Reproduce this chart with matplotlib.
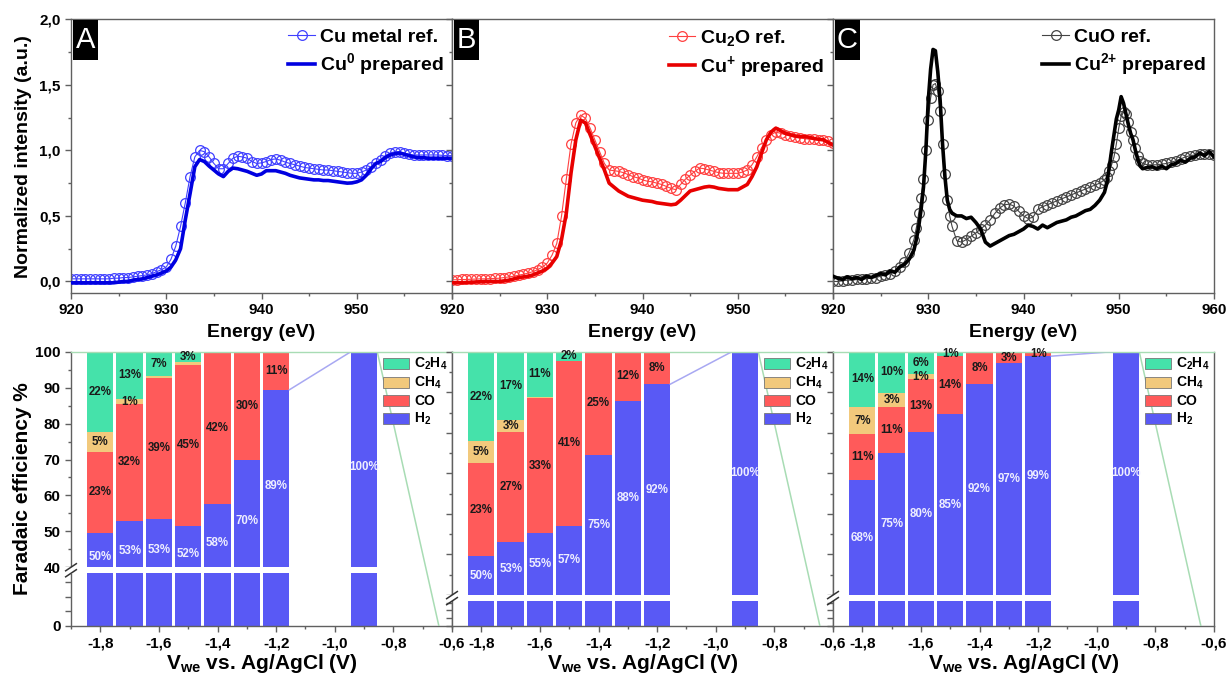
import numpy as np
import matplotlib
matplotlib.use('Agg')
import matplotlib.pyplot as plt
from matplotlib.patches import Patch, Rectangle
from matplotlib.ticker import MultipleLocator, FixedLocator, FuncFormatter

plt.rcParams.update({
    'font.family': ['Liberation Sans', 'DejaVu Sans'],
    'font.weight': 'bold',
    'axes.labelweight': 'bold',
    'mathtext.fontset': 'custom',
    'mathtext.rm': 'Liberation Sans:bold',
    'mathtext.it': 'Liberation Sans:bold',
    'mathtext.bf': 'Liberation Sans:bold',
    'mathtext.default': 'bf',
})

# ---------------- XANES data ----------------
E_AB = [920.0, 920.5, 921.0, 921.5, 922.0, 922.5, 923.0, 923.5, 924.0, 924.5,
        925.0, 925.5, 926.0, 926.5, 927.0, 927.5, 928.0, 928.5, 929.0, 929.5,
        930.0, 930.5, 931.0, 931.5, 932.0, 932.5, 933.0, 933.5, 934.0, 934.5,
        935.0, 935.5, 936.0, 936.5, 937.0, 937.5, 938.0, 938.5, 939.0, 939.5,
        940.0, 940.5, 941.0, 941.5, 942.0, 942.5, 943.0, 943.5, 944.0, 944.5,
        945.0, 945.5, 946.0, 946.5, 947.0, 947.5, 948.0, 948.5, 949.0, 949.5,
        950.0, 950.5, 951.0, 951.5, 952.0, 952.5, 953.0, 953.5, 954.0, 954.5,
        955.0, 955.5, 956.0, 956.5, 957.0, 957.5, 958.0, 958.5, 959.0, 959.5,
        960.0]

cu_metal_ref = [0.02, 0.02, 0.02, 0.02, 0.02, 0.02, 0.02, 0.02, 0.02, 0.025,
                0.025, 0.03, 0.03, 0.035, 0.04, 0.045, 0.05, 0.06, 0.075, 0.09,
                0.11, 0.17, 0.27, 0.42, 0.60, 0.80, 0.95, 1.00, 0.99, 0.95,
                0.90, 0.86, 0.86, 0.90, 0.94, 0.955, 0.95, 0.94, 0.915, 0.90,
                0.905, 0.915, 0.93, 0.935, 0.925, 0.91, 0.90, 0.89, 0.88, 0.87,
                0.865, 0.86, 0.855, 0.85, 0.85, 0.845, 0.84, 0.835, 0.83, 0.825,
                0.825, 0.835, 0.85, 0.875, 0.90, 0.93, 0.96, 0.98, 0.99, 0.99,
                0.98, 0.97, 0.965, 0.965, 0.965, 0.965, 0.965, 0.965, 0.962, 0.96,
                0.96]
cu0_prepared = [-0.01, -0.01, -0.01, -0.01, -0.01, -0.01, -0.01, -0.01, -0.01, -0.01,
                -0.005, 0.0, 0.0, 0.01, 0.015, 0.02, 0.03, 0.04, 0.05, 0.065,
                0.08, 0.11, 0.165, 0.25, 0.47, 0.67, 0.875, 0.93, 0.915, 0.88,
                0.85, 0.82, 0.80, 0.84, 0.865, 0.86, 0.85, 0.84, 0.825, 0.81,
                0.82, 0.845, 0.845, 0.845, 0.835, 0.825, 0.81, 0.80, 0.79, 0.785,
                0.78, 0.775, 0.775, 0.77, 0.77, 0.765, 0.76, 0.755, 0.75, 0.752,
                0.76, 0.775, 0.81, 0.86, 0.90, 0.915, 0.945, 0.965, 0.975, 0.98,
                0.97, 0.96, 0.95, 0.945, 0.945, 0.94, 0.94, 0.94, 0.94, 0.94,
                0.94]
cu2o_ref = [0.013, 0.013, 0.015, 0.015, 0.017, 0.018, 0.02, 0.02, 0.022, 0.023,
            0.025, 0.03, 0.035, 0.04, 0.048, 0.055, 0.064, 0.075, 0.09, 0.11,
            0.14, 0.20, 0.29, 0.50, 0.78, 1.05, 1.21, 1.27, 1.245, 1.17,
            1.08, 0.99, 0.90, 0.85, 0.845, 0.84, 0.83, 0.815, 0.80, 0.79,
            0.775, 0.765, 0.76, 0.75, 0.74, 0.725, 0.71, 0.70, 0.74, 0.78,
            0.81, 0.84, 0.865, 0.86, 0.85, 0.84, 0.83, 0.825, 0.825, 0.825,
            0.825, 0.835, 0.85, 0.89, 0.95, 1.02, 1.08, 1.12, 1.14, 1.13,
            1.12, 1.11, 1.10, 1.095, 1.09, 1.085, 1.085, 1.08, 1.08, 1.07,
            1.055]
cu1_prepared = [-0.01, -0.01, -0.01, -0.008, -0.006, -0.004, -0.002, 0.0, 0.0, 0.0,
                0.0, 0.005, 0.01, 0.02, 0.03, 0.035, 0.04, 0.05, 0.065, 0.08,
                0.10, 0.14, 0.19, 0.32, 0.52, 0.83, 1.08, 1.23, 1.21, 1.12,
                1.03, 0.94, 0.85, 0.75, 0.72, 0.69, 0.67, 0.65, 0.64, 0.63,
                0.62, 0.615, 0.61, 0.60, 0.595, 0.59, 0.585, 0.59, 0.62, 0.655,
                0.69, 0.70, 0.71, 0.72, 0.725, 0.72, 0.71, 0.705, 0.70, 0.70,
                0.70, 0.72, 0.74, 0.80, 0.875, 0.98, 1.08, 1.14, 1.17, 1.15,
                1.13, 1.12, 1.11, 1.105, 1.105, 1.10, 1.09, 1.085, 1.08, 1.06,
                1.04]

E_C = [920.0, 920.5, 921.0, 921.5, 922.0, 922.5, 923.0, 923.5, 924.0, 924.5,
       925.0, 925.5, 926.0, 926.5, 927.0, 927.5, 928.0,
       928.5, 928.75, 929.0, 929.25, 929.5, 929.75, 930.0, 930.25, 930.5, 930.75,
       931.0, 931.25, 931.5, 931.75, 932.0, 932.25, 932.5,
       933.0, 933.5, 934.0, 934.5, 935.0, 935.5, 936.0, 936.5, 937.0, 937.5,
       938.0, 938.5, 939.0, 939.5, 940.0, 940.5, 941.0, 941.5, 942.0, 942.5,
       943.0, 943.5, 944.0, 944.5, 945.0, 945.5, 946.0, 946.5, 947.0, 947.5,
       948.0, 948.5,
       948.75, 949.0, 949.25, 949.5, 949.75, 950.0, 950.25, 950.5, 950.75, 951.0,
       951.25, 951.5, 951.75, 952.0, 952.25, 952.5,
       953.0, 953.5, 954.0, 954.5, 955.0, 955.5, 956.0, 956.5, 957.0, 957.5,
       958.0, 958.5, 959.0, 959.5, 960.0]
cuo_ref = [0.0, 0.0, 0.005, 0.01, 0.01, 0.015, 0.02, 0.02, 0.025, 0.03,
           0.04, 0.05, 0.06, 0.08, 0.11, 0.15, 0.22,
           0.32, 0.41, 0.52, 0.64, 0.78, 1.0, 1.23, 1.40, 1.50, 1.51,
           1.45, 1.30, 1.05, 0.82, 0.62, 0.50, 0.42,
           0.31, 0.30, 0.32, 0.345, 0.37, 0.40, 0.43, 0.47, 0.52, 0.56,
           0.585, 0.59, 0.575, 0.535, 0.50, 0.48, 0.49, 0.55, 0.57, 0.585,
           0.60, 0.615, 0.63, 0.645, 0.66, 0.675, 0.69, 0.705, 0.72, 0.735,
           0.75, 0.775,
           0.80, 0.84, 0.89, 0.95, 1.05, 1.17, 1.26, 1.29, 1.28, 1.22,
           1.14, 1.08, 1.02, 0.96, 0.92, 0.90,
           0.89, 0.89, 0.89, 0.895, 0.90, 0.91, 0.92, 0.935, 0.95, 0.96,
           0.965, 0.97, 0.975, 0.975, 0.965]
cu2_prepared = [0.04, 0.025, 0.015, 0.035, 0.02, 0.03, 0.015, 0.04, 0.03, 0.045,
                0.06, 0.05, 0.08, 0.07, 0.11, 0.13, 0.17,
                0.24, 0.32, 0.42, 0.55, 0.72, 1.0, 1.38, 1.62, 1.77, 1.76,
                1.60, 1.38, 1.05, 0.80, 0.62, 0.55, 0.52,
                0.50, 0.50, 0.48, 0.49, 0.45, 0.40, 0.30, 0.27, 0.29, 0.31,
                0.33, 0.35, 0.36, 0.38, 0.40, 0.43, 0.42, 0.40, 0.43, 0.41,
                0.43, 0.45, 0.46, 0.47, 0.49, 0.50, 0.52, 0.54, 0.55, 0.58,
                0.62, 0.68,
                0.75, 0.87, 1.0, 1.12, 1.24, 1.31, 1.41, 1.36, 1.28, 1.20,
                1.13, 1.08, 1.0, 0.93, 0.88, 0.86,
                0.87, 0.875, 0.86, 0.88, 0.86, 0.89, 0.90, 0.925, 0.91, 0.94,
                0.95, 0.98, 0.96, 0.99, 0.95]

# ---------------- Faradaic efficiency data ----------------
V = [-1.8, -1.7, -1.6, -1.5, -1.4, -1.3, -1.2, -0.9, -0.6]
A_H2 = [49.6, 53.0, 53.4, 51.6, 57.6, 70.0, 89.4, 100, 0]
A_CO = [22.6, 32.4, 39.4, 44.7, 42.4, 30.0, 10.6, 0, 0]
A_CH4 = [5.4, 1.4, 0.3, 0.8, 0, 0, 0, 0, 0]
A_C2H4 = [22.4, 13.2, 6.9, 2.9, 0, 0, 0, 0, 0]
B_H2 = [49.6, 53.0, 55.3, 57.1, 74.6, 87.9, 92.0, 100, 0]
B_CO = [22.9, 27.3, 33.2, 40.6, 25.4, 12.1, 8.0, 0, 0]
B_CH4 = [5.4, 2.9, 0.3, 0, 0, 0, 0, 0, 0]
B_C2H4 = [22.1, 16.8, 11.2, 2.3, 0, 0, 0, 0, 0]
C_H2 = [68.3, 75.0, 80.1, 84.6, 92.1, 97.1, 98.9, 100, 0]
C_CO = [11.4, 11.4, 13.1, 14.3, 7.9, 2.9, 1.1, 0, 0]
C_CH4 = [6.6, 3.4, 1.2, 0, 0, 0, 0, 0, 0]
C_C2H4 = [13.7, 10.2, 5.6, 1.1, 0, 0, 0, 0, 0]

panel_letters = ['A', 'B', 'C']
top_labels = [('Cu metal ref.', 'Cu$^0$ prepared'),
              ('Cu$_2$O ref.', 'Cu$^{{+}}$ prepared'),
              ('CuO ref.', 'Cu$^{2{+}}$ prepared')]
species_labels = ['H$_2$', 'CO', 'CH$_4$', 'C$_2$H$_4$']

# ---------------- styling ----------------
ref_colors = ['#4040ff', '#ff4040', '#444444']
prep_colors = ['#0000e0', '#e80000', '#000000']
bar_colors = ['#5959f5', '#ff5a5a', '#f2c97c', '#45e2aa']
line_colors = ['#a8a8f2', '#f2a8a8', '#f2dca8', '#a8dcb4']
spine_col = '#606060'

W, H = 1228.0, 675.0
fig = plt.figure(figsize=(12.28, 6.75), dpi=100)


def add_ax(x0, y0, x1, y1):
    return fig.add_axes([x0 / W, 1 - y1 / H, (x1 - x0) / W, (y1 - y0) / H])


def style_spines(ax):
    for s in ax.spines.values():
        s.set_color(spine_col)
        s.set_linewidth(1.0)
    ax.tick_params(which='both', direction='out', color=spine_col, width=1,
                   labelsize=11, top=False, right=False)
    ax.tick_params(which='major', length=4)
    ax.tick_params(which='minor', length=2.5)


spectra = [(E_AB, cu_metal_ref, cu0_prepared),
           (E_AB, cu2o_ref, cu1_prepared),
           (E_C, cuo_ref, cu2_prepared)]

panel_w = 381.0
for i in range(3):
    x0 = 71 + i * panel_w
    ax = add_ax(x0, 19.3, x0 + panel_w, 293)
    E, ref, prep = spectra[i]
    ax.plot(E, ref, color=ref_colors[i], marker='o', ms=7, mfc='none',
            mew=0.9, lw=0.8, label=top_labels[i][0], zorder=2)
    ax.plot(E, prep, color=prep_colors[i], lw=2.6, label=top_labels[i][1], zorder=3)
    ax.set_xlim(920, 960)
    ax.set_ylim(-0.088, 2.0)
    style_spines(ax)
    ax.xaxis.set_major_locator(MultipleLocator(10))
    ax.xaxis.set_minor_locator(MultipleLocator(5))
    ax.yaxis.set_major_locator(MultipleLocator(0.5))
    ax.yaxis.set_minor_locator(MultipleLocator(0.25))
    last = (i == 2)
    ax.xaxis.set_major_formatter(FuncFormatter(
        lambda v, p, last=last: '' if (v > 959 and not last) else f"{v:.0f}"))
    if i == 0:
        ax.yaxis.set_major_formatter(FuncFormatter(lambda v, p: f"{v:.1f}".replace('.', ',')))
        ax.set_ylabel('Normalized intensity (a.u.)', fontsize=14)
        ax.yaxis.set_label_coords(-0.102, 0.5)
    else:
        ax.yaxis.set_major_formatter(FuncFormatter(lambda v, p: ''))
    ax.set_xlabel('Energy (eV)', fontsize=14)
    ax.xaxis.set_label_coords(0.5, -0.112)
    ax.legend(loc='upper right', frameon=False, fontsize=14,
              handlelength=1.35, handletextpad=0.25, labelspacing=0.3,
              borderaxespad=0.25, borderpad=0.2)
    ax.add_patch(Rectangle((0.005, 0.852), 0.066, 0.145, transform=ax.transAxes,
                           facecolor='black', edgecolor='none', zorder=6))
    ax.text(0.038, 0.924, panel_letters[i], transform=ax.transAxes, color='white',
            fontsize=21, fontweight='normal', ha='center', va='center', zorder=7)

fe_sets = [(A_H2, A_CO, A_CH4, A_C2H4),
           (B_H2, B_CO, B_CH4, B_C2H4),
           (C_H2, C_CO, C_CH4, C_C2H4)]
ratios = [0.406, 0.189, 0.189]
gap_lo = [36.0, 32.0, 32.0]
label_floor = [36.0, 40.0, 40.0]
bar_w = 0.09


def make_scale(r):
    def fwd(y):
        y = np.asarray(y, float)
        return np.where(y < 40, y * r, 40 * r + (y - 40))

    def inv(z):
        z = np.asarray(z, float)
        return np.where(z < 40 * r, z / r, z - 40 * r + 40)
    return fwd, inv


for i in range(3):
    x0 = 71 + i * panel_w
    ax = add_ax(x0, 351.7, x0 + panel_w, 625.7)
    r = ratios[i]
    fwd, inv = make_scale(r)
    ax.set_yscale('function', functions=(fwd, inv))
    ax.set_ylim(0, 100)
    ax.set_xlim(-1.9, -0.6)
    style_spines(ax)
    ax.spines['top'].set_color('#a8dcb4')

    vals = [np.array(s, float) for s in fe_sets[i]]
    bottom = np.zeros(len(V))
    for k, v in enumerate(vals):
        ax.bar(V, v, width=bar_w, bottom=bottom, color=bar_colors[k],
               linewidth=0, zorder=2)
        for x, h, b in zip(V, v, bottom):
            if h >= 0.95:
                lo = max(b, label_floor[i])
                yc = (lo + b + h) / 2.0
                ax.text(x, yc, f"{h:.0f}%", ha='center', va='center', fontsize=8.3,
                        fontweight='bold', zorder=4,
                        color='#eeeeff' if k == 0 else '#1a1a1a')
        bottom = bottom + v

    # connecting lines across gaps between bars (only where a series' top is visible)
    cum = np.zeros(len(V))
    for k, v in enumerate(vals):
        cum = cum + v
        above = sum(vals[m] for m in range(k + 1, len(vals))) if k < len(vals) - 1 else np.zeros(len(V))
        for j in range(len(V) - 1):
            if V[j + 1] - V[j] > 0.15:
                if above[j] == 0 and above[j + 1] == 0 and k < len(vals) - 1:
                    continue
                ax.plot([V[j] + bar_w / 2, V[j + 1] - bar_w / 2], [cum[j], cum[j + 1]],
                        color=line_colors[k], lw=1.1, zorder=3)

    # axis break band
    ax.axhspan(gap_lo[i], 40, color='white', zorder=2.2, linewidth=0)
    z0, z1 = fwd(0), fwd(100)
    yb = float((fwd((gap_lo[i] + 40) / 2.0) - z0) / (z1 - z0))
    ax.add_patch(Rectangle((-0.02, yb - 0.012), 0.04, 0.024, transform=ax.transAxes,
                           facecolor='white', edgecolor='none', clip_on=False, zorder=5))
    for dy in (-0.011, 0.011):
        ax.plot([-0.014, 0.014], [yb + dy - 0.013, yb + dy + 0.013], transform=ax.transAxes,
                color='#333333', lw=1.1, clip_on=False, zorder=6)

    ax.yaxis.set_major_locator(FixedLocator([0, 10, 20, 30, 40, 50, 60, 70, 80, 90, 100]))
    ax.yaxis.set_minor_locator(FixedLocator([45, 55, 65, 75, 85, 95]))
    ax.xaxis.set_major_locator(MultipleLocator(0.2))
    ax.xaxis.set_minor_locator(MultipleLocator(0.1))
    ax.xaxis.set_major_formatter(FuncFormatter(lambda v, p: f"{v:.1f}".replace('.', ',')))
    if i == 0:
        ax.yaxis.set_major_formatter(FuncFormatter(
            lambda v, p: '' if 0 < v < 40 else f"{v:.0f}"))
        ax.set_ylabel('Faradaic efficiency %', fontsize=15)
        ax.yaxis.set_label_coords(-0.102, 0.5)
    else:
        ax.yaxis.set_major_formatter(FuncFormatter(lambda v, p: ''))
    ax.set_xlabel('V$_{we}$ vs. Ag/AgCl (V)', fontsize=15)
    ax.xaxis.set_label_coords(0.5, -0.095)

    handles = [Patch(facecolor=bar_colors[k], edgecolor='#777777', linewidth=0.6)
               for k in (3, 2, 1, 0)]
    labels = [species_labels[k] for k in (3, 2, 1, 0)]
    ax.legend(handles, labels, loc='upper right', frameon=False, fontsize=10,
              handlelength=1.9, handleheight=0.85, labelspacing=0.2,
              handletextpad=0.35, borderaxespad=0.2, borderpad=0.1)

fig.savefig('out.png', dpi=100)
